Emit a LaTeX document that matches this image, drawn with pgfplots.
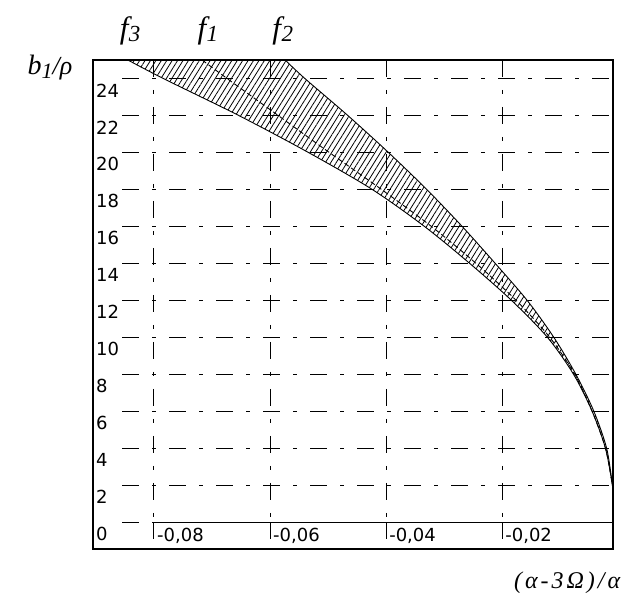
\documentclass[border=0pt]{standalone}
\usepackage{fontspec}
\setmainfont{Liberation Serif}
\newfontfamily\tickfont{DejaVu Sans}
\usepackage{pgfplots}
\pgfplotsset{compat=1.18}
\usepgfplotslibrary{fillbetween}
\usetikzlibrary{patterns.meta}

\tikzset{
  grd/.style={black, line width=0.9pt, dash pattern=on 17pt off 13pt on 4pt off 13pt},
  tl/.style={inner sep=0pt, font=\tickfont\fontsize{18}{18}\selectfont},
}
\newcommand{\flab}[1]{{\fontsize{31}{31}\selectfont\itshape f}\kern0.5pt\raisebox{-3pt}{\fontsize{23}{23}\selectfont\itshape #1}}

\begin{document}
\begin{tikzpicture}
\begin{axis}[
    scale only axis,
    width=520pt, height=489pt,
    xmin=-0.0905, xmax=-0.0009,
    ymin=-1.45, ymax=25,
    xtick=\empty, ytick=\empty,
    axis line style={line width=1.7pt},
    clip=false,
]
% grid
\pgfplotsinvokeforeach{2,4,...,24}{
  \draw[grd] (axis cs:-0.0855,#1) -- (axis cs:-0.0009,#1);
}
\draw[grd] (axis cs:-0.0855,0) -- (axis cs:-0.08,0);
\pgfplotsinvokeforeach{-0.08,-0.06,-0.04,-0.02}{
  \draw[grd] (axis cs:#1,25) -- (axis cs:#1,0);
  \draw[line width=1pt] (axis cs:#1,0) -- (axis cs:#1,-0.9);
}
\draw[line width=1pt] (axis cs:-0.08,0) -- (axis cs:-0.0009,0);

% tick labels
\pgfplotsinvokeforeach{0,2,...,24}{
  \node[tl, anchor=north west, xshift=3pt, yshift=-5pt] at (axis cs:-0.0905,#1) {#1};
}
\node[tl, anchor=north west, xshift=3pt, yshift=-6pt] at (axis cs:-0.08,0) {-0,08};
\node[tl, anchor=north west, xshift=3pt, yshift=-6pt] at (axis cs:-0.06,0) {-0,06};
\node[tl, anchor=north west, xshift=3pt, yshift=-6pt] at (axis cs:-0.04,0) {-0,04};
\node[tl, anchor=north west, xshift=3pt, yshift=-6pt] at (axis cs:-0.02,0) {-0,02};

% f3 (lower boundary)
\addplot[name path=f3, black, line width=0.9pt, smooth] coordinates {
  (-0.0845,25) (-0.0784,24) (-0.0654,22) (-0.0534,20) (-0.0424,18)
  (-0.0334,16) (-0.0256,14) (-0.0184,12) (-0.0122,10) (-0.0077,8)
  (-0.0045,6) (-0.0022,4) (-0.0010,2) (-0.0009,1.6)
};
% f2 (upper boundary)
\addplot[name path=f2, black, line width=0.9pt, smooth] coordinates {
  (-0.0574,25) (-0.0540,24) (-0.0466,22) (-0.0396,20) (-0.0330,18)
  (-0.0269,16) (-0.0212,14) (-0.0157,12) (-0.0111,10) (-0.0073,8)
  (-0.0042,6) (-0.0020,4) (-0.0010,2) (-0.0009,1.6)
};
\addplot[draw=none, pattern={Lines[angle=58, distance=4.6pt, line width=0.8pt]}]
  fill between[of=f2 and f3];
% f1 (middle)
\addplot[black, line width=0.9pt, smooth, dash pattern=on 5pt off 3pt] coordinates {
  (-0.0717,25) (-0.0674,24) (-0.0586,22) (-0.0498,20) (-0.0408,18)
  (-0.0322,16) (-0.0245,14) (-0.0176,12) (-0.0118,10) (-0.0075,8)
  (-0.0045,6) (-0.0022,4) (-0.0010,2) (-0.0009,1.6)
};

% curve names and axis titles
\node at (axis cs:-0.0841,26.6) {\flab{3}};
\node at (axis cs:-0.0707,26.6) {\flab{1}};
\node at (axis cs:-0.0578,26.6) {\flab{2}};
\node at (axis cs:-0.0979,24.6) {{\fontsize{28}{28}\selectfont\itshape b}\raisebox{-4pt}{\fontsize{22}{22}\selectfont\itshape 1}{\fontsize{26}{26}\selectfont\itshape /ρ}};
\node at (axis cs:-0.0088,-3.25) {\fontsize{24}{24}\selectfont\itshape (\kern3pt α\kern3pt-\kern3pt3\kern3pt Ω\kern3pt)\kern3pt/\kern3pt α};
\end{axis}
\path[use as bounding box] (-93pt,-46pt) rectangle (535pt,549pt);
\end{tikzpicture}
\end{document}
